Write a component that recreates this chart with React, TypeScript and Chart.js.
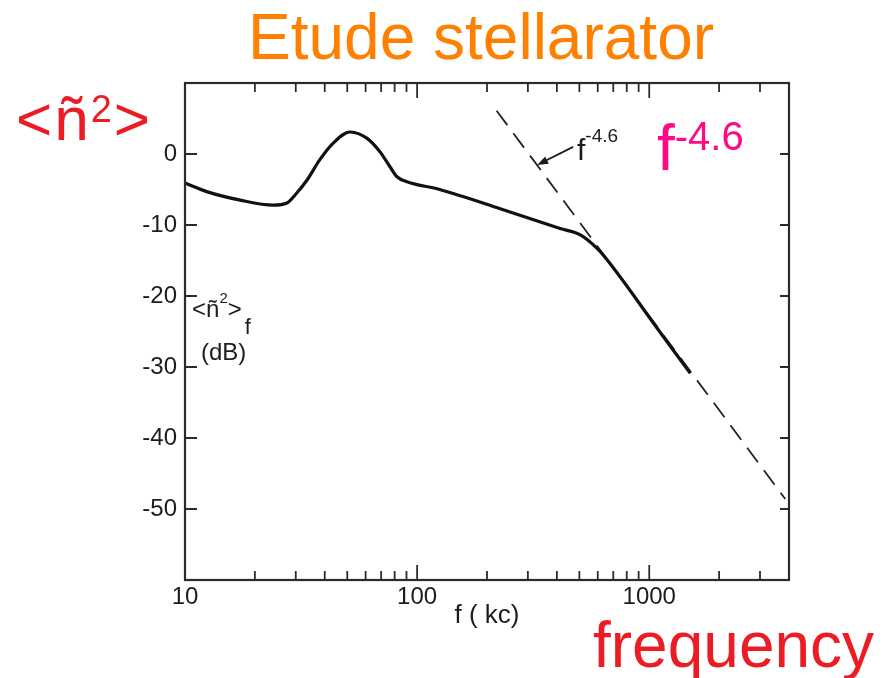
import React, { useEffect, useRef } from 'react';
import { Chart, registerables } from 'chart.js';

Chart.register(...registerables);

// ---- data ----
const freqKc = [10, 12.4, 17.3, 24, 27.5, 30.3, 33.5, 38.1, 43.4, 51.4, 60.9, 69.2, 76.4, 81.9, 90.5, 125, 228, 413, 505, 596, 658, 1080, 1503];
const spectrumDb = [-4.1, -5.3, -6.5, -7.2, -6.9, -5.5, -3.7, -0.8, 1.5, 3.1, 2.2, 0.3, -1.8, -3.2, -3.9, -5.0, -7.7, -10.5, -11.4, -13.3, -14.9, -24.5, -30.9];
const fitFreqKc = [220, 3855];
const fitDb = [6.1, -48.6];
const yTickValues = [0, -10, -20, -30, -40, -50];
const xLabelTicks = [10, 100, 1000];
const xMinorTicks = [20, 30, 40, 50, 60, 70, 80, 90, 200, 300, 400, 500, 600, 700, 800, 900, 2000, 3000];
const arrowKc = [470, 329];
const arrowDb = [1.0, -1.55];

const INK = '#1c1c1c';
const FONT = "'Liberation Sans', Arial, Helvetica, sans-serif";

const frameTicks = {
  id: 'frameTicks',
  afterDatasetsDraw(chart: any) {
    const { ctx, chartArea: a, scales } = chart;
    const x = scales.x;
    const y = scales.y;
    ctx.save();
    ctx.strokeStyle = '#2b2b2b';
    ctx.lineWidth = 2.2;
    ctx.strokeRect(a.left, a.top, a.right - a.left, a.bottom - a.top);
    ctx.lineWidth = 1.8;
    ctx.beginPath();
    for (const v of xMinorTicks) {
      const px = x.getPixelForValue(v);
      ctx.moveTo(px, a.bottom); ctx.lineTo(px, a.bottom - 9);
      ctx.moveTo(px, a.top); ctx.lineTo(px, a.top + 9);
    }
    for (const v of xLabelTicks.slice(1)) {
      const px = x.getPixelForValue(v);
      ctx.moveTo(px, a.bottom); ctx.lineTo(px, a.bottom - 15);
      ctx.moveTo(px, a.top); ctx.lineTo(px, a.top + 15);
    }
    for (const v of yTickValues) {
      const py = y.getPixelForValue(v);
      ctx.moveTo(a.left, py); ctx.lineTo(a.left + 12, py);
      ctx.moveTo(a.right, py); ctx.lineTo(a.right - 9, py);
    }
    ctx.stroke();

    // annotation arrow
    const x0 = x.getPixelForValue(arrowKc[0]);
    const y0 = y.getPixelForValue(arrowDb[0]);
    const x1 = x.getPixelForValue(arrowKc[1]);
    const y1 = y.getPixelForValue(arrowDb[1]);
    const ang = Math.atan2(y1 - y0, x1 - x0);
    ctx.strokeStyle = INK;
    ctx.fillStyle = INK;
    ctx.lineWidth = 1.8;
    ctx.beginPath();
    ctx.moveTo(x0, y0);
    ctx.lineTo(x1 - 6 * Math.cos(ang), y1 - 6 * Math.sin(ang));
    ctx.stroke();
    ctx.beginPath();
    ctx.moveTo(x1, y1);
    ctx.lineTo(x1 - 11 * Math.cos(ang) + 4 * Math.sin(ang), y1 - 11 * Math.sin(ang) - 4 * Math.cos(ang));
    ctx.lineTo(x1 - 11 * Math.cos(ang) - 4 * Math.sin(ang), y1 - 11 * Math.sin(ang) + 4 * Math.cos(ang));
    ctx.closePath();
    ctx.fill();
    ctx.restore();
  },
};

const abs = (left: number, top: number, size: number, color: string): React.CSSProperties => ({
  position: 'absolute',
  left,
  top,
  fontSize: size,
  color,
  lineHeight: 1,
  whiteSpace: 'nowrap',
  fontFamily: FONT,
});

export default function App() {
  const ref = useRef<HTMLCanvasElement | null>(null);

  useEffect(() => {
    if (!ref.current) return;
    const chart = new Chart(ref.current, {
      type: 'line',
      data: {
        datasets: [
          {
            label: 'spectrum',
            data: freqKc.map((f, i) => ({ x: f, y: spectrumDb[i] })),
            borderColor: '#111111',
            borderWidth: 3.2,
            pointRadius: 0,
            cubicInterpolationMode: 'monotone',
            fill: false,
          },
          {
            label: 'fit',
            data: fitFreqKc.map((f, i) => ({ x: f, y: fitDb[i] })),
            borderColor: '#222222',
            borderWidth: 1.8,
            borderDash: [18, 10],
            pointRadius: 0,
            fill: false,
          },
        ],
      },
      options: {
        responsive: false,
        animation: false,
        devicePixelRatio: 1,
        layout: { padding: { left: 0, right: 97, top: 83, bottom: 0 } },
        plugins: { legend: { display: false }, tooltip: { enabled: false }, title: { display: false } },
        scales: {
          x: {
            type: 'logarithmic',
            min: 10,
            max: 4000,
            grid: { display: false, drawTicks: false },
            border: { display: false },
            afterBuildTicks: (s: any) => { s.ticks = xLabelTicks.map((v) => ({ value: v })); },
            afterFit: (s: any) => { s.height = 98; },
            ticks: {
              autoSkip: false,
              maxRotation: 0,
              padding: 3,
              color: INK,
              font: { family: FONT, size: 24 },
              callback: (v: any) => String(v),
            },
            title: {
              display: true,
              text: 'f ( kc)',
              color: INK,
              font: { family: FONT, size: 26 },
              padding: { top: 0, bottom: 47 },
            },
          },
          y: {
            type: 'linear',
            min: -60,
            max: 10,
            grid: { display: false, drawTicks: false },
            border: { display: false },
            afterBuildTicks: (s: any) => { s.ticks = yTickValues.map((v) => ({ value: v })); },
            afterFit: (s: any) => { s.width = 185; },
            ticks: {
              padding: 8,
              color: INK,
              font: { family: FONT, size: 24 },
              callback: (v: any) => String(v),
            },
          },
        },
      } as any,
      plugins: [frameTicks],
    });
    return () => chart.destroy();
  }, []);

  return (
    <div style={{ position: 'absolute', left: 0, top: 0, width: 886, height: 678, background: '#ffffff', overflow: 'hidden' }}>
      <canvas ref={ref} width={886} height={678} style={{ display: 'block', width: 886, height: 678 }} />
      <div style={abs(248, 5, 64, '#FF8000')}>Etude stellarator</div>
      <div style={{ ...abs(16, 88, 62, '#EC1C24'), letterSpacing: 2 }}>
        &lt;ñ<span style={{ fontSize: 38, position: 'relative', top: -18 }}>2</span>&gt;
      </div>
      <div style={abs(657, 116, 64, '#FF0A84')}>
        f<span style={{ fontSize: 40, position: 'relative', top: -20 }}>-4.6</span>
      </div>
      <div style={abs(593, 613, 64, '#EC1C24')}>frequency</div>
      <div style={abs(192, 297, 24, INK)}>
        &lt;ñ<span style={{ fontSize: 15, position: 'relative', top: -14 }}>2</span>&gt;
        <span style={{ fontSize: 22, position: 'relative', top: 17, marginLeft: 3 }}>f</span>
      </div>
      <div style={abs(201, 340, 24, INK)}>(dB)</div>
      <div style={abs(577, 135, 30, INK)}>
        f<span style={{ fontSize: 19, position: 'relative', top: -18 }}>-4.6</span>
      </div>
    </div>
  );
}
